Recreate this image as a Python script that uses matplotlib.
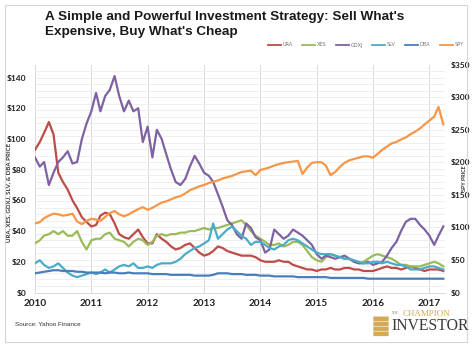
import matplotlib
matplotlib.use("Agg")
import matplotlib.pyplot as plt
from matplotlib.patches import Rectangle, FancyBboxPatch
from matplotlib.lines import Line2D
import pandas as pd

# ---- data (monthly readings, Jan 2010 .. Apr 2017) ----
dates = pd.date_range("2010-01-01", periods=88, freq="MS")

ura = [93, 98, 104, 111, 103, 78, 72, 67, 60, 55, 49, 46,
       43, 44, 50, 52, 51, 45, 38, 36, 35, 38, 41, 36,
       32, 32, 38, 35, 33, 30, 28, 29, 31, 32, 29, 26,
       24, 25, 27, 30, 29, 27, 26, 25, 24, 24, 24, 23,
       21, 20, 20, 20, 21, 20, 20, 18, 17, 16, 15, 15,
       14, 15, 15, 16, 15, 15, 16, 16, 15, 15, 14, 14,
       14, 15, 16, 17, 16, 16, 15, 16, 17, 16, 15, 14,
       15, 15, 15, 14]

xes = [32, 34, 37, 38, 40, 38, 40, 37, 37, 40, 33, 28,
       34, 35, 35, 38, 39, 35, 34, 33, 30, 33, 35, 34,
       31, 33, 37, 38, 37, 38, 38, 39, 39, 40, 40, 41,
       42, 41, 42, 42, 43, 44, 45, 46, 47, 44, 40, 37,
       35, 33, 31, 31, 32, 30, 31, 33, 33, 31, 27, 23,
       21, 20, 23, 25, 24, 23, 22, 22, 20, 19, 20, 22,
       24, 25, 24, 23, 22, 20, 18, 18, 17, 17, 17, 18,
       19, 20, 19, 17]

gdxj = [88, 82, 85, 70, 78, 85, 88, 92, 84, 85, 100, 110,
        118, 130, 118, 128, 132, 141, 128, 118, 125, 118, 120, 98,
        108, 88, 106, 100, 90, 80, 72, 70, 74, 82, 89, 84,
        78, 76, 72, 64, 56, 47, 44, 38, 35, 45, 42, 36,
        34, 26, 28, 41, 38, 35, 37, 41, 39, 37, 34, 31,
        25, 22, 24, 23, 22, 23, 24, 22, 20, 19, 19, 20,
        18, 19, 20, 24, 29, 33, 40, 46, 48, 48, 44, 41,
        37, 31, 37, 43]

slv = [19, 21, 18, 16, 17, 19, 16, 13, 11, 10, 11, 12,
       13, 12, 13, 15, 13, 15, 17, 18, 17, 19, 16, 16,
       17, 16, 18, 19, 19, 19, 20, 22, 25, 27, 29, 30,
       32, 34, 45, 35, 38, 41, 43, 40, 37, 35, 31, 33,
       33, 31, 29, 28, 30, 31, 34, 35, 34, 32, 30, 28,
       26, 25, 25, 25, 24, 23, 22, 22, 21, 20, 19, 19,
       20, 20, 19, 20, 19, 18, 18, 17, 15, 15, 15, 16,
       17, 17, 16, 15]

dba = [12.5, 13, 13.5, 14, 14.5, 14.5, 14, 14, 14, 13.5, 13.5, 13,
       13, 13, 13, 12.5, 13, 13, 12.5, 12.5, 13, 12.5, 12.5, 12.5,
       12.5, 12, 12, 12, 12, 11.5, 11.5, 11.5, 11.5, 11.5, 11, 11,
       11, 11, 11.5, 12.5, 12.5, 12.5, 12, 12, 12, 11.5, 11.5, 11.5,
       11, 11, 11, 10.5, 10.5, 10.5, 10.5, 10.5, 10, 10, 10, 10,
       10, 10, 10, 9.5, 9.5, 9.5, 9.5, 9.5, 9.5, 9.5, 9.5, 9,
       9, 9, 9, 9, 9, 9, 9, 9, 9, 9, 9, 9,
       9, 9, 9, 9]

spy = [106, 108, 114, 118, 121, 120, 118, 119, 121, 109, 105, 110,
       113, 112, 110, 116, 122, 125, 120, 117, 120, 124, 128, 131,
       127, 130, 134, 138, 140, 143, 146, 148, 152, 157, 160, 163,
       165, 168, 170, 172, 175, 177, 179, 182, 185, 186, 187, 180,
       188, 190, 192, 195, 197, 199, 200, 201, 202, 182, 192, 199,
       200, 200, 195, 180, 185, 193, 199, 203, 205, 207, 209, 209,
       207, 213, 219, 224, 229, 231, 235, 238, 243, 247, 252, 258,
       264, 270, 285, 258]

left_names = ["URA", "XES", "GDXJ", "SLV", "DBA"]
left_series = [ura, xes, gdxj, slv, dba]
left_colors = ["#BE4B48", "#9BBB59", "#7E62A1", "#4BACC6", "#4A7EBB"]
spy_color = "#F79646"

left_ticks = list(range(0, 141, 20))
right_ticks = list(range(0, 351, 50))
years = list(range(2010, 2018))

# ---- figure ----
W, H = 474, 346
fig = plt.figure(figsize=(W / 100, H / 100), dpi=100)
fig.patch.set_facecolor("white")

# outer frame
fig.patches.append(Rectangle((5 / W, 1 - 342 / H), 462 / W, 337 / H,
                             transform=fig.transFigure, fill=False,
                             edgecolor="#d6d6d6", linewidth=0.8))

ax = fig.add_axes([35 / W, 1 - 292.5 / H, 410 / W, 228 / H])
ax2 = ax.twinx()

LTOP = 148.5
RTOP = 350

for name, vals, col in zip(left_names, left_series, left_colors):
    ax.plot(dates, vals, color=col, lw=1.6, solid_joinstyle="round", zorder=3)
ax2.plot(dates, spy, color=spy_color, lw=1.6, solid_joinstyle="round", zorder=3)

ax.set_ylim(0, LTOP)
ax2.set_ylim(0, RTOP)
ax.set_xlim(pd.Timestamp("2010-01-01"), pd.Timestamp("2017-04-12"))

# grids
ax.set_xticks([pd.Timestamp(f"{y}-01-01") for y in years])
ax.set_xticklabels([str(y) for y in years])
ax.grid(axis="x", color="#d9d9d9", lw=0.7, zorder=0)
minor_pos = [v * LTOP / RTOP for v in range(10, 350, 10)]
ax.set_yticks(minor_pos, minor=True)
ax.grid(axis="y", which="minor", color="#ececec", lw=0.6, zorder=0)
ax.set_axisbelow(True)

ax.set_yticks(left_ticks)
ax.set_yticklabels([f"${v}" for v in left_ticks])
ax2.set_yticks(right_ticks)
ax2.set_yticklabels([f"${v}" for v in right_ticks])

for a in (ax, ax2):
    for s in a.spines.values():
        s.set_visible(False)
ax.spines["bottom"].set_visible(True)
ax.spines["bottom"].set_color("#d9d9d9")
ax.spines["bottom"].set_linewidth(0.7)

tick_font = dict(family="Lato", weight="bold", size=6.0, color="#222222")
ax.tick_params(axis="both", which="both", length=0)
ax2.tick_params(axis="both", which="both", length=0)
for lab in ax.get_yticklabels():
    lab.set(**tick_font)
for lab in ax2.get_yticklabels():
    lab.set(**tick_font)
for lab in ax.get_xticklabels():
    lab.set(family="Lato", weight="bold", size=7.2, color="#222222")
ax.tick_params(axis="y", pad=6)
ax2.tick_params(axis="y", pad=4)
ax.tick_params(axis="x", pad=5)

# titles and labels
title_font = dict(family="Liberation Sans", weight="bold", size=9.7, color="#1a1a1a")
fig.text(45 / W, 1 - 17 / H, "A Simple and Powerful Investment Strategy: Sell What's",
         va="center", ha="left", **title_font)
fig.text(45 / W, 1 - 32 / H, "Expensive, Buy What's Cheap",
         va="center", ha="left", **title_font)

fig.text(8.5 / W, 1 - 192 / H, "URA, XES, GDXJ, SLV, & DBA PRICE", rotation=90,
         va="center", ha="center", family="Lato", weight="bold", size=4.4, color="#333333")
fig.text(464 / W, 1 - 178.5 / H, "SPY PRICE", rotation=90,
         va="center", ha="center", family="Lato", weight="bold", size=3.9, color="#333333")

# legend
handles = [Line2D([], [], color=c, lw=1.3) for c in left_colors + [spy_color]]
leg = fig.legend(handles, left_names + ["SPY"], loc="center right",
                 bbox_to_anchor=(468 / W, 1 - 45 / H), ncol=6, frameon=False,
                 fontsize=3.6, handlelength=2.6, handletextpad=0.3,
                 columnspacing=1.9, labelcolor="#777777")

fig.text(15 / W, 1 - 325 / H, "Source: Yahoo Finance", ha="left", va="center",
         family="Liberation Sans", size=4.6, color="#333333")

# logo
gold = "#D4AA5A"
for i, yy in enumerate([317, 322, 327, 332]):
    fig.patches.append(FancyBboxPatch((374 / W, 1 - (yy + 3.5) / H), 14 / W, 3.6 / H,
                                      boxstyle="round,pad=0.002", transform=fig.transFigure,
                                      facecolor=gold, edgecolor="white", linewidth=0.3))
fig.text(392 / W, 1 - 313 / H, "THE", ha="left", va="center",
         family="Liberation Serif", size=2.5, color="#777777")
fig.text(403 / W, 1 - 313.5 / H, "CHAMPION", ha="left", va="center",
         family="Liberation Serif", size=6.5, color=gold)
fig.text(391 / W, 1 - 326 / H, "INVESTOR", ha="left", va="center",
         family="Liberation Serif", size=11.3, color="#3a3a3a")

fig.savefig("out.png", dpi=100, facecolor="white")
